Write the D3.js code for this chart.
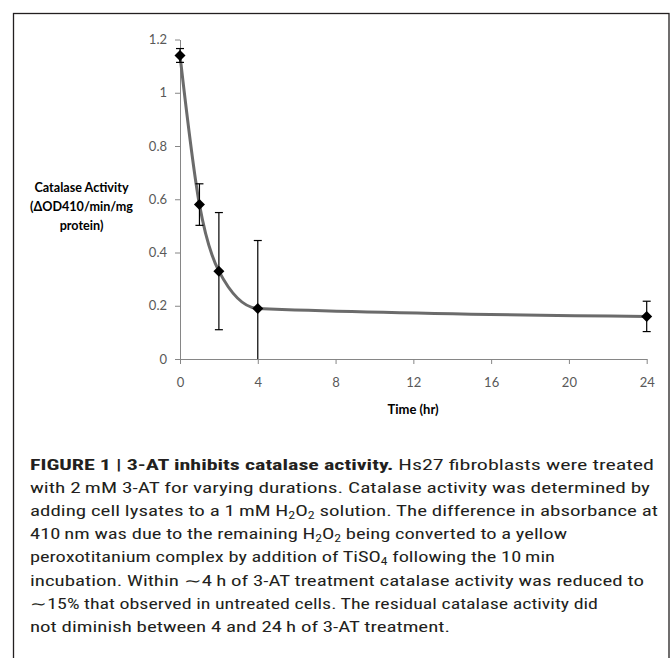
<!DOCTYPE html>
<html>
<head>
<meta charset="utf-8">
<script src="https://cdn.jsdelivr.net/npm/d3@7"></script>
<style>
  html, body { margin: 0; padding: 0; background: #fff; }
  svg { display: block; }
</style>
</head>
<body>
<svg id="fig" width="671" height="658"></svg>
<script>
// Catalase activity after 3-AT treatment (mean ± error)
const hours = [0, 1, 2, 4, 24];
const activity = [1.14, 0.58, 0.33, 0.19, 0.16];
const errorBars = [0.026, 0.078, 0.22, 0.255, 0.057];

const yTickValues = [0, 0.2, 0.4, 0.6, 0.8, 1, 1.2];
const yTickLabels = ["0", "0.2", "0.4", "0.6", "0.8", "1", "1.2"];
const xTickValues = [0, 4, 8, 12, 16, 20, 24];
const xTickLabels = ["0", "4", "8", "12", "16", "20", "24"];

const yTitleLines = ["Catalase Activity", "(\u0394OD410/min/mg", "protein)"];
const xTitle = "Time (hr)";

const svg = d3.select("#fig");

// outer frame
svg.append("rect")
  .attr("x", 13.5).attr("y", 13.5)
  .attr("width", 655.5).attr("height", 700)
  .attr("fill", "none").attr("stroke", "#231f20").attr("stroke-width", 1.3);

const x = d3.scaleLinear().domain([0, 24]).range([180, 646.7]);
const y = d3.scaleLinear().domain([0, 1.2]).range([359, 39.5]);

const axisColor = "#868686";
const labelColor = "#595959";
const chartFont = "Lato, 'Open Sans', sans-serif";

// y axis
const yAxis = svg.append("g")
  .attr("transform", `translate(${x(0)},0)`)
  .call(d3.axisLeft(y).tickValues(yTickValues)
    .tickFormat((d, i) => yTickLabels[i]).tickSize(5).tickSizeOuter(0));
// x axis
const xAxis = svg.append("g")
  .attr("transform", `translate(0,${y(0)})`)
  .call(d3.axisBottom(x).tickValues(xTickValues)
    .tickFormat((d, i) => xTickLabels[i]).tickSize(5).tickSizeOuter(0));

[yAxis, xAxis].forEach(g => {
  g.select(".domain").attr("stroke", axisColor).attr("stroke-width", 1);
  g.selectAll(".tick line").attr("stroke", axisColor);
  g.selectAll(".tick text")
    .attr("fill", labelColor)
    .style("font-family", chartFont)
    .style("font-size", "13px");
});
yAxis.selectAll(".tick text").attr("x", -13);
xAxis.selectAll(".tick text").attr("y", 19);

// axis titles
const yTitle = svg.append("text")
  .attr("text-anchor", "middle")
  .attr("fill", "#000")
  .style("font-family", chartFont)
  .style("font-weight", "bold")
  .style("font-size", "12.6px");
yTitle.selectAll("tspan").data(yTitleLines).enter().append("tspan")
  .attr("x", 81.5)
  .attr("y", (d, i) => 191.5 + i * 19)
  .text(d => d);

svg.append("text")
  .attr("x", 413).attr("y", 413.5)
  .attr("text-anchor", "middle")
  .style("font-family", chartFont)
  .style("font-weight", "bold")
  .style("font-size", "13px")
  .text(xTitle);

// smoothed trend line through the means
const pts = hours.map((h, i) => [h, activity[i]]);
svg.append("path")
  .datum(pts)
  .attr("fill", "none")
  .attr("stroke", "#6b6b6b")
  .attr("stroke-width", 3)
  .attr("d", d3.line().x(d => x(d[0])).y(d => y(d[1])).curve(d3.curveMonotoneX));

// error bars
const capW = 4;
const eb = svg.append("g").attr("stroke", "#000").attr("stroke-width", 1.2);
hours.forEach((h, i) => {
  const hi = activity[i] + errorBars[i];
  const lo = Math.max(0, activity[i] - errorBars[i]);
  const cx = x(h);
  eb.append("line").attr("x1", cx).attr("x2", cx).attr("y1", y(hi)).attr("y2", y(lo));
  eb.append("line").attr("x1", cx - capW).attr("x2", cx + capW).attr("y1", y(hi)).attr("y2", y(hi));
  if (activity[i] - errorBars[i] > 0) {
    eb.append("line").attr("x1", cx - capW).attr("x2", cx + capW).attr("y1", y(lo)).attr("y2", y(lo));
  }
});

// diamond markers
svg.append("g").selectAll("path").data(pts).enter().append("path")
  .attr("transform", d => `translate(${x(d[0])},${y(d[1])})`)
  .attr("d", "M0,-5.5L5.5,0L0,5.5L-5.5,0Z")
  .attr("fill", "#000");

// figure caption
const captionFont = "'Liberation Sans Narrow', 'Roboto Condensed', Roboto, sans-serif";
const captionLines = [
  { w: 624, parts: [{ t: "FIGURE 1 | 3-AT inhibits catalase activity.", b: true }, { t: " Hs27 fibroblasts were treated" }] },
  { w: 620, parts: [{ t: "with 2\u2009mM 3-AT for varying durations. Catalase activity was determined by" }] },
  { w: 628, parts: [{ t: "adding cell lysates to a 1\u2009mM H" }, { t: "2", s: 1 }, { t: "O" }, { t: "2", s: 1 }, { t: " solution. The difference in absorbance at" }] },
  { w: 537, parts: [{ t: "410\u2009nm was due to the remaining H" }, { t: "2", s: 1 }, { t: "O" }, { t: "2", s: 1 }, { t: " being converted to a yellow" }] },
  { w: 525, parts: [{ t: "peroxotitanium complex by addition of TiSO" }, { t: "4", s: 1 }, { t: " following the 10\u2009min" }] },
  { w: 614, parts: [{ t: "incubation. Within \u223C4\u2009h of 3-AT treatment catalase activity was reduced to" }] },
  { w: 568, parts: [{ t: "\u223C15% that observed in untreated cells. The residual catalase activity did" }] },
  { w: 420, parts: [{ t: "not diminish between 4 and 24\u2009h of 3-AT treatment." }] }
];
const cap = svg.append("g")
  .style("font-family", captionFont)
  .style("font-size", "15px")
  .attr("fill", "#231f20");
captionLines.forEach((line, i) => {
  const t = cap.append("text")
    .attr("x", 30).attr("y", 470 + i * 23.1)
    .attr("textLength", line.w)
    .attr("lengthAdjust", "spacingAndGlyphs");
  line.parts.forEach((p, k) => {
    const ts = t.append("tspan").text(p.t);
    if (p.b) ts.style("font-weight", "bold");
    if (p.s) ts.style("font-size", "10px").attr("dy", 3);
    else if (k > 0 && line.parts[k - 1].s) ts.attr("dy", -3);
  });
});
</script>
</body>
</html>
